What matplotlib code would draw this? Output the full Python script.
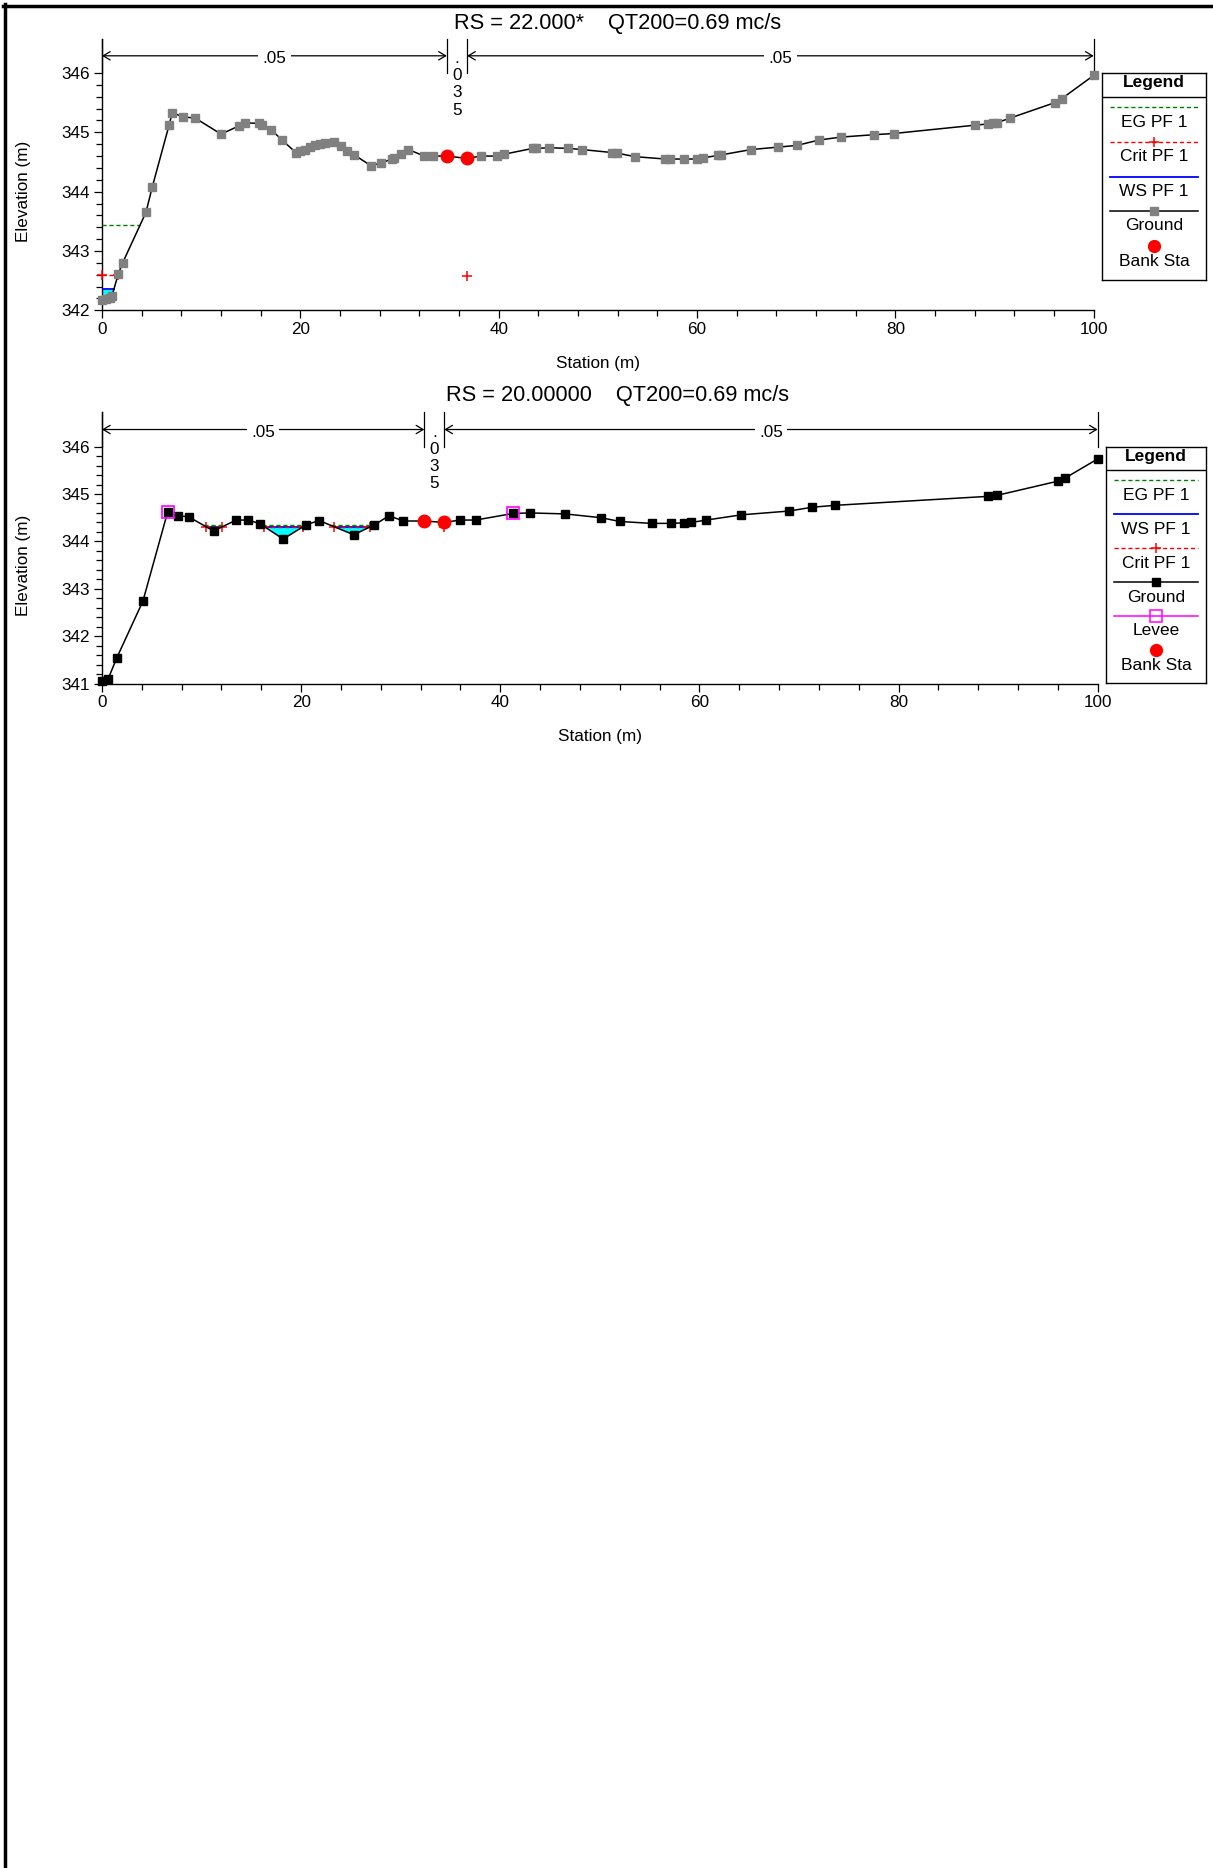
import numpy as np
import matplotlib
matplotlib.use("Agg")
import matplotlib.pyplot as plt
from matplotlib.lines import Line2D
from matplotlib.ticker import MultipleLocator, FixedLocator

plt.rcParams["font.family"] = ["Liberation Sans", "DejaVu Sans"]

# ------------------------------------------------------------------ data
# Cross section RS 22.000* (interpolated)
rs22_title = "RS = 22.000*    QT200=0.69 mc/s"
rs22_station = [0.0, 0.4, 0.8, 1.0, 1.64, 2.08, 4.43, 5.07, 6.78, 7.08,
                8.19, 9.40, 12.01, 13.83, 14.47, 15.80, 16.10, 17.08, 18.16, 19.54,
                19.97, 20.47, 20.98, 21.48, 21.98, 22.52, 23.36, 24.07, 24.70, 25.44,
                27.09, 28.13, 29.20, 29.47, 30.10, 30.90, 32.49, 33.40, 34.77, 36.82,
                38.23, 39.81, 40.51, 43.46, 43.80, 45.08, 46.99, 48.40, 51.39, 51.93,
                53.74, 56.80, 57.30, 58.67, 60.02, 60.58, 62.10, 62.45, 65.46, 68.14,
                70.09, 72.30, 74.52, 77.84, 79.82, 88.00, 89.30, 89.80, 90.20, 91.57,
                96.07, 96.80, 100.0]
rs22_elev = [342.18, 342.19, 342.21, 342.24, 342.61, 342.80, 343.65, 344.08, 345.13, 345.33,
             345.26, 345.24, 344.97, 345.11, 345.16, 345.15, 345.13, 345.04, 344.87, 344.66,
             344.69, 344.71, 344.75, 344.78, 344.80, 344.82, 344.84, 344.77, 344.69, 344.62,
             344.44, 344.48, 344.55, 344.57, 344.63, 344.71, 344.60, 344.60, 344.60, 344.56,
             344.60, 344.60, 344.63, 344.73, 344.73, 344.74, 344.73, 344.71, 344.66, 344.65,
             344.59, 344.55, 344.55, 344.55, 344.55, 344.57, 344.61, 344.62, 344.71, 344.75,
             344.78, 344.87, 344.92, 344.96, 344.98, 345.12, 345.14, 345.15, 345.16, 345.24,
             345.50, 345.57, 345.96]
rs22_bank_sta = [34.77, 36.82]
rs22_bank_elev = [344.60, 344.56]
rs22_ws = 342.36
rs22_crit = 342.59
rs22_eg = 343.43
rs22_wet_windows = [(0.0, 4.43)]
rs22_crit_pt_sta = [36.82]
rs22_crit_pt_elev = [342.58]
rs22_n = [".05", ".035", ".05"]

# Cross section RS 20.00000
rs20_title = "RS = 20.00000    QT200=0.69 mc/s"
rs20_station = [0.0, 0.6, 1.5, 4.11, 6.58, 7.59, 8.69, 11.20, 13.48, 14.71,
                15.88, 18.19, 20.50, 21.80, 25.28, 27.36, 28.83, 30.27, 32.37, 34.38,
                35.95, 37.53, 41.30, 43.00, 46.49, 50.10, 52.00, 55.19, 57.10, 58.43,
                59.20, 60.70, 64.20, 69.00, 71.30, 73.58, 89.00, 89.87, 95.99, 96.76,
                100.0]
rs20_elev = [341.06, 341.09, 341.55, 342.74, 344.61, 344.54, 344.52, 344.22, 344.45, 344.45,
             344.37, 344.05, 344.35, 344.44, 344.14, 344.35, 344.54, 344.43, 344.43, 344.40,
             344.45, 344.45, 344.59, 344.60, 344.58, 344.50, 344.42, 344.38, 344.38, 344.39,
             344.40, 344.45, 344.56, 344.64, 344.72, 344.76, 344.95, 344.97, 345.27, 345.34,
             345.74]
rs20_bank_sta = [32.37, 34.38]
rs20_bank_elev = [344.43, 344.40]
rs20_levee_sta = [6.58, 41.30]
rs20_levee_elev = [344.61, 344.59]
rs20_ws = 344.30
rs20_crit = 344.31
rs20_eg = 344.34
rs20_wet_windows = [(8.69, 13.48), (15.88, 20.50), (21.80, 27.36)]
rs20_crit_pt_sta = [34.38]
rs20_crit_pt_elev = [344.31]
rs20_n = [".05", ".035", ".05"]

# ------------------------------------------------------------------ layout
W, H, DPI = 1213, 1868, 100
FS = 12.3
fig = plt.figure(figsize=(W / DPI, H / DPI), dpi=DPI)
fig.patch.set_facecolor("white")


def px_rect(left, top, right, bottom):
    return [left / W, 1 - bottom / H, (right - left) / W, (bottom - top) / H]


def wet_span(sta, elev, level, lo, hi, n=4001):
    x = np.linspace(lo, hi, n)
    g = np.interp(x, sta, elev)
    idx = np.flatnonzero(g <= level)
    return x[idx[0]], x[idx[-1]]


def draw_section(rect, ylim, title, title_y, sta, elev, ground_color, banks,
                 bank_elev, ws, crit, eg, windows, crit_pt, n_vals, arrow_y,
                 levee=None):
    ax = fig.add_axes(px_rect(*rect))
    ax.set_xlim(0, 100)
    ax.set_ylim(*ylim)
    for s in ("top", "right"):
        ax.spines[s].set_visible(False)
    for s in ("left", "bottom"):
        ax.spines[s].set_linewidth(1.0)
    ax.xaxis.set_major_locator(MultipleLocator(20))
    ax.xaxis.set_minor_locator(MultipleLocator(4))
    ax.yaxis.set_major_locator(FixedLocator(np.arange(np.ceil(ylim[0]), 346.01, 1.0)))
    ax.yaxis.set_minor_locator(FixedLocator(np.arange(np.ceil(ylim[0]), 346.01, 0.2)))
    ax.tick_params(which="major", length=6, width=0.9, labelsize=FS, pad=2.5)
    ax.tick_params(which="minor", length=4, width=0.9)

    ax.set_xlabel("Station (m)", fontsize=FS)
    ax.set_ylabel("Elevation (m)", fontsize=FS)
    ax.yaxis.label.set(ha="center", va="center", rotation_mode="default")
    ax.xaxis.label.set(ha="center", va="center")
    frac_mid = (0.5 * (ylim[0] + 346) - ylim[0]) / (ylim[1] - ylim[0])
    ax_h = rect[3] - rect[1]
    ax_w = rect[2] - rect[0]
    ax.yaxis.set_label_coords((24 - rect[0]) / ax_w, frac_mid)
    ax.xaxis.set_label_coords(0.5, -53 / ax_h)

    fig.text(618 / W, 1 - title_y / H, title, ha="center", va="center", fontsize=15.7)

    # water: fill, WS, crit, EG
    for lo, hi in windows:
        a, b = wet_span(sta, elev, ws, lo, hi)
        x = np.linspace(a, b, 400)
        g = np.interp(x, sta, elev)
        ax.fill_between(x, g, ws, where=g <= ws, color="#00FFFF", lw=0, zorder=2)
        ax.plot([a, b], [ws, ws], color="#0000FF", lw=1.3, zorder=3)
        ca, cb = wet_span(sta, elev, crit, lo, hi)
        ax.plot([ca, cb], [crit, crit], color="#FF0000", lw=1.0, ls=(0, (3, 2)),
                marker="+", ms=7, mew=1.1, zorder=4, clip_on=False)
        ea, eb = wet_span(sta, elev, eg, lo, hi)
        ax.plot([ea, eb], [eg, eg], color="#008000", lw=1.0, ls=(0, (3, 2)), zorder=4)
    ax.plot(crit_pt[0], crit_pt[1], ls="none", marker="+", ms=7, mew=1.1,
            color="#FF0000", zorder=4)

    # ground
    ax.plot(sta, elev, color="black", lw=1.1, zorder=5)
    ax.plot(sta, elev, ls="none", marker="s", ms=5.8, mfc=ground_color,
            mec=ground_color, zorder=6, clip_on=False)
    if levee is not None:
        ax.plot(levee[0], levee[1], ls="none", marker="s", ms=8.5, mfc="none",
                mec="#FF00FF", mew=1.2, zorder=7)
    ax.plot(banks, bank_elev, ls="none", marker="o", ms=9, color="#FF0000", zorder=8)

    # Manning's n regions
    edges = [0, banks[0], banks[1], 100]
    for x in edges:
        ax.plot([x, x], [346.0, ylim[1]], color="black", lw=0.9, zorder=5, clip_on=False)
    arrow_kw = dict(arrowstyle="<->,head_length=0.5,head_width=0.3", lw=0.9,
                    color="black", shrinkA=0, shrinkB=0)
    for (x0, x1), lab in (((edges[0], edges[1]), n_vals[0]), ((edges[2], edges[3]), n_vals[2])):
        ax.annotate("", xy=(x0, arrow_y), xytext=(x1, arrow_y), arrowprops=arrow_kw)
        ax.annotate(lab, xy=(0.5 * (x0 + x1), arrow_y), xytext=(0, -5.2),
                    textcoords="offset points", ha="center", va="baseline", fontsize=FS,
                    bbox=dict(boxstyle="square,pad=0.25", fc="white", ec="none"), zorder=6)
    xm = 0.5 * (edges[1] + edges[2])
    for k, ch in enumerate(n_vals[1]):
        ax.annotate(ch, xy=(xm, arrow_y), xytext=(0, -(7 + 17.3 * k) * 0.72),
                    textcoords="offset points", ha="center", va="baseline", fontsize=FS)
    return ax


draw_section((102, 38.6, 1093.7, 310.3), (342, 346.58), rs22_title, 23.5,
             rs22_station, rs22_elev, "#808080", rs22_bank_sta, rs22_bank_elev,
             rs22_ws, rs22_crit, rs22_eg, rs22_wet_windows,
             (rs22_crit_pt_sta, rs22_crit_pt_elev), rs22_n, 346.29)

draw_section((102, 411.5, 1097.7, 683.6), (341, 346.74), rs20_title, 396,
             rs20_station, rs20_elev, "black", rs20_bank_sta, rs20_bank_elev,
             rs20_ws, rs20_crit, rs20_eg, rs20_wet_windows,
             (rs20_crit_pt_sta, rs20_crit_pt_elev), rs20_n, 346.36,
             levee=(rs20_levee_sta, rs20_levee_elev))


# ------------------------------------------------------------------ legends
def draw_legend(box, header_y, sep_y, entries):
    left, top, right, bottom = box
    lax = fig.add_axes(px_rect(left, top, right, bottom))
    lax.set_xlim(left, right)
    lax.set_ylim(bottom, top)
    lax.set_xticks([])
    lax.set_yticks([])
    for sp in lax.spines.values():
        sp.set_linewidth(1.0)
    cx = 0.5 * (left + right)
    lax.text(cx, header_y, "Legend", ha="center", va="center", fontsize=12.5,
             fontweight="bold")
    lax.plot([left, right], [sep_y, sep_y], color="black", lw=1.0)
    for line_y, text_y, label, line_kw, mark_kw in entries:
        if line_kw is not None:
            lax.plot([left + 8, right - 8], [line_y, line_y], **line_kw)
        if mark_kw is not None:
            lax.plot([cx], [line_y], ls="none", **mark_kw)
        lax.text(cx, text_y, label, ha="center", va="center", fontsize=12.5)


EG = dict(color="#008000", lw=1.0, ls=(0, (3, 2)))
CRIT = dict(color="#FF0000", lw=1.0, ls=(0, (3, 2)))
CRIT_M = dict(marker="+", ms=7, mew=1.1, color="#FF0000")
WS = dict(color="#0000FF", lw=1.3)
GRD = dict(color="black", lw=1.1)
BANK_M = dict(marker="o", ms=8.5, color="#FF0000")
LEVEE = dict(color="#FF00FF", lw=1.1)
LEVEE_M = dict(marker="s", ms=8.5, mfc="none", mec="#FF00FF", mew=1.1)

draw_legend((1102, 72.7, 1206, 280), 83, 97, [
    (107, 122.3, "EG PF 1", EG, None),
    (142.3, 156.7, "Crit PF 1", CRIT, CRIT_M),
    (176.7, 191.7, "WS PF 1", WS, None),
    (211, 226, "Ground", GRD, dict(marker="s", ms=5.5, color="#808080")),
    (246, 261, "Bank Sta", None, BANK_M),
])

draw_legend((1106, 446.7, 1206, 683.3), 456.7, 470, [
    (480, 495.7, "EG PF 1", EG, None),
    (514.3, 529, "WS PF 1", WS, None),
    (548.3, 563, "Crit PF 1", CRIT, CRIT_M),
    (582.3, 597.3, "Ground", GRD, dict(marker="s", ms=5.5, color="black")),
    (616, 630.7, "Levee", LEVEE, LEVEE_M),
    (650, 665, "Bank Sta", None, BANK_M),
])

# page frame (top and left edges)
fig.add_artist(Line2D([3 / W, 1], [1 - 5.7 / H] * 2, transform=fig.transFigure,
                      color="black", lw=2.5))
fig.add_artist(Line2D([4.7 / W] * 2, [0, 1 - 4 / H], transform=fig.transFigure,
                      color="black", lw=2.5))

fig.savefig("out.png", dpi=DPI)
